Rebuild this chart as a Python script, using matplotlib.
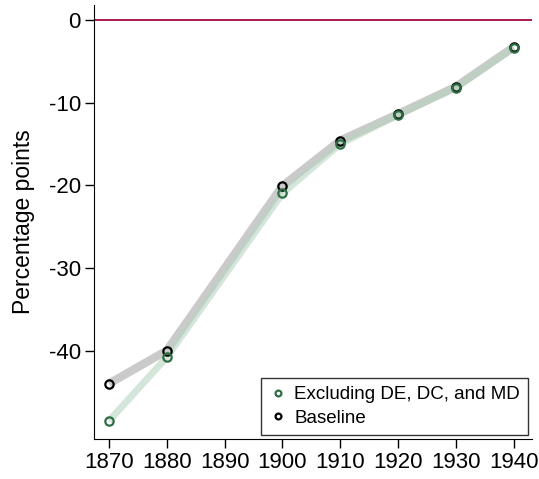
import matplotlib
matplotlib.use("Agg")
import matplotlib.pyplot as plt

plt.rcParams['font.family'] = ['Liberation Sans', 'DejaVu Sans']
plt.rcParams['axes.unicode_minus'] = False

# data
years = [1870, 1880, 1900, 1910, 1920, 1930, 1940]
baseline = [-44.0, -40.0, -20.1, -14.6, -11.4, -8.1, -3.3]
excluding = [-48.5, -40.8, -21.0, -15.0, -11.5, -8.2, -3.4]
xticks = [1870, 1880, 1890, 1900, 1910, 1920, 1930, 1940]
yticks = [0, -10, -20, -30, -40]

fig = plt.figure(figsize=(5.39, 4.79), dpi=100)
ax = fig.add_axes([94 / 539, 40 / 479, 438 / 539, 434 / 479])

ax.axhline(0, color="#a8083c", lw=1.3, zorder=1)

# thick lines behind the markers
ax.plot(years, baseline, color="#b4b4b4", lw=6, alpha=0.7, solid_capstyle="butt", zorder=2)
ax.plot(years, excluding, color="#b8d4c0", lw=5, alpha=0.6, solid_capstyle="butt", zorder=3)

ax.plot(years, excluding, ls="none", marker="o", ms=6, mfc="none", mec="#2f6e45",
        mew=1.6, label="Excluding DE, DC, and MD", zorder=5)
ax.plot(years, baseline, ls="none", marker="o", ms=6, mfc="none", mec="black",
        mew=1.6, label="Baseline", zorder=4)

ax.set_xlim(1867.4, 1943.2)
ax.set_ylim(-50.7, 1.8)
ax.set_xticks(xticks)
ax.set_yticks(yticks)
ax.tick_params(axis="both", labelsize=16, length=6.5, width=1, direction="out", pad=3)
ax.spines["top"].set_visible(False)
ax.spines["right"].set_visible(False)
ax.set_ylabel("Percentage points", fontsize=16.5, labelpad=10)

leg = ax.legend(loc="lower right", fontsize=13.5, frameon=True, fancybox=False,
                edgecolor="black", handletextpad=0.4, handlelength=0.9,
                borderaxespad=0.2, markerscale=0.7, borderpad=0.45, labelspacing=0.35)
leg.get_frame().set_linewidth(1.0)

fig.savefig("out.png", dpi=100)
